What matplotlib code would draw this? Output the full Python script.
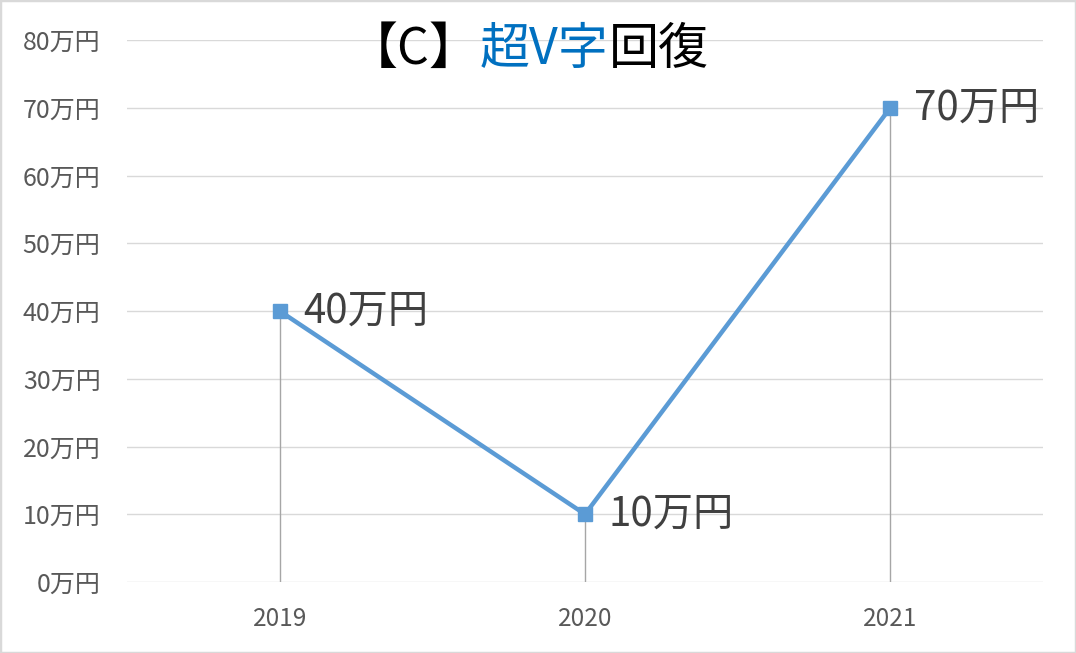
import matplotlib
matplotlib.use("Agg")
import matplotlib.pyplot as plt
from matplotlib.patches import Rectangle

plt.rcParams['font.family'] = ['Noto Sans CJK JP', 'DejaVu Sans']

years = ["2019", "2020", "2021"]
values = [40, 10, 70]
labels = ["40万円", "10万円", "70万円"]
yticks = [0, 10, 20, 30, 40, 50, 60, 70, 80]
ytick_labels = [f"{v}万円" for v in yticks]
title_parts = [("【C】", "#000000"), ("超V字", "#0070c0"), ("回復", "#000000")]

W, H = 1076, 653
fig = plt.figure(figsize=(W / 100, H / 100), dpi=100)
ax = fig.add_axes([127 / W, 1 - 582 / H, (1043 - 127) / W, (582 - 40) / H])

x = list(range(len(years)))
ax.set_xlim(-0.5, len(years) - 0.5)
ax.set_ylim(0, 80)
ax.set_yticks(yticks)
ax.set_yticklabels(ytick_labels)
ax.set_xticks(x)
ax.set_xticklabels(years)
ax.grid(axis='y', color='#d9d9d9', linewidth=1.0)
ax.set_axisbelow(True)
for s in ax.spines.values():
    s.set_visible(False)
ax.tick_params(axis='y', length=0, pad=19, labelsize=18, labelcolor='#595959')
ax.tick_params(axis='x', length=0, pad=17, labelsize=17.5, labelcolor='#595959')

ax.vlines(x, 0, values, color='#a6a6a6', linewidth=1.0, zorder=2)
ax.plot(x, values, color='#5b9bd5', linewidth=3.2, marker='s', markersize=10,
        markerfacecolor='#5b9bd5', markeredgecolor='#5b9bd5', zorder=3)
for xi, v, lab in zip(x, values, labels):
    ax.annotate(lab, (xi, v), xytext=(17, 0), textcoords='offset points',
                ha='left', va='center', fontsize=29, color='#404040', zorder=4)

# title with coloured segments
fig.canvas.draw()
renderer = fig.canvas.get_renderer()
xpos = 348
ypix = H - 50
for txt, col in title_parts:
    t = fig.text(xpos / W, ypix / H, txt, fontsize=36, color=col,
                 ha='left', va='center')
    bb = t.get_window_extent(renderer)
    xpos = bb.x1

fig.patches.append(Rectangle((0, 0), 1, 1, transform=fig.transFigure,
                             fill=False, edgecolor='#d9d9d9', linewidth=2.5))

fig.savefig("out.png", dpi=100)
